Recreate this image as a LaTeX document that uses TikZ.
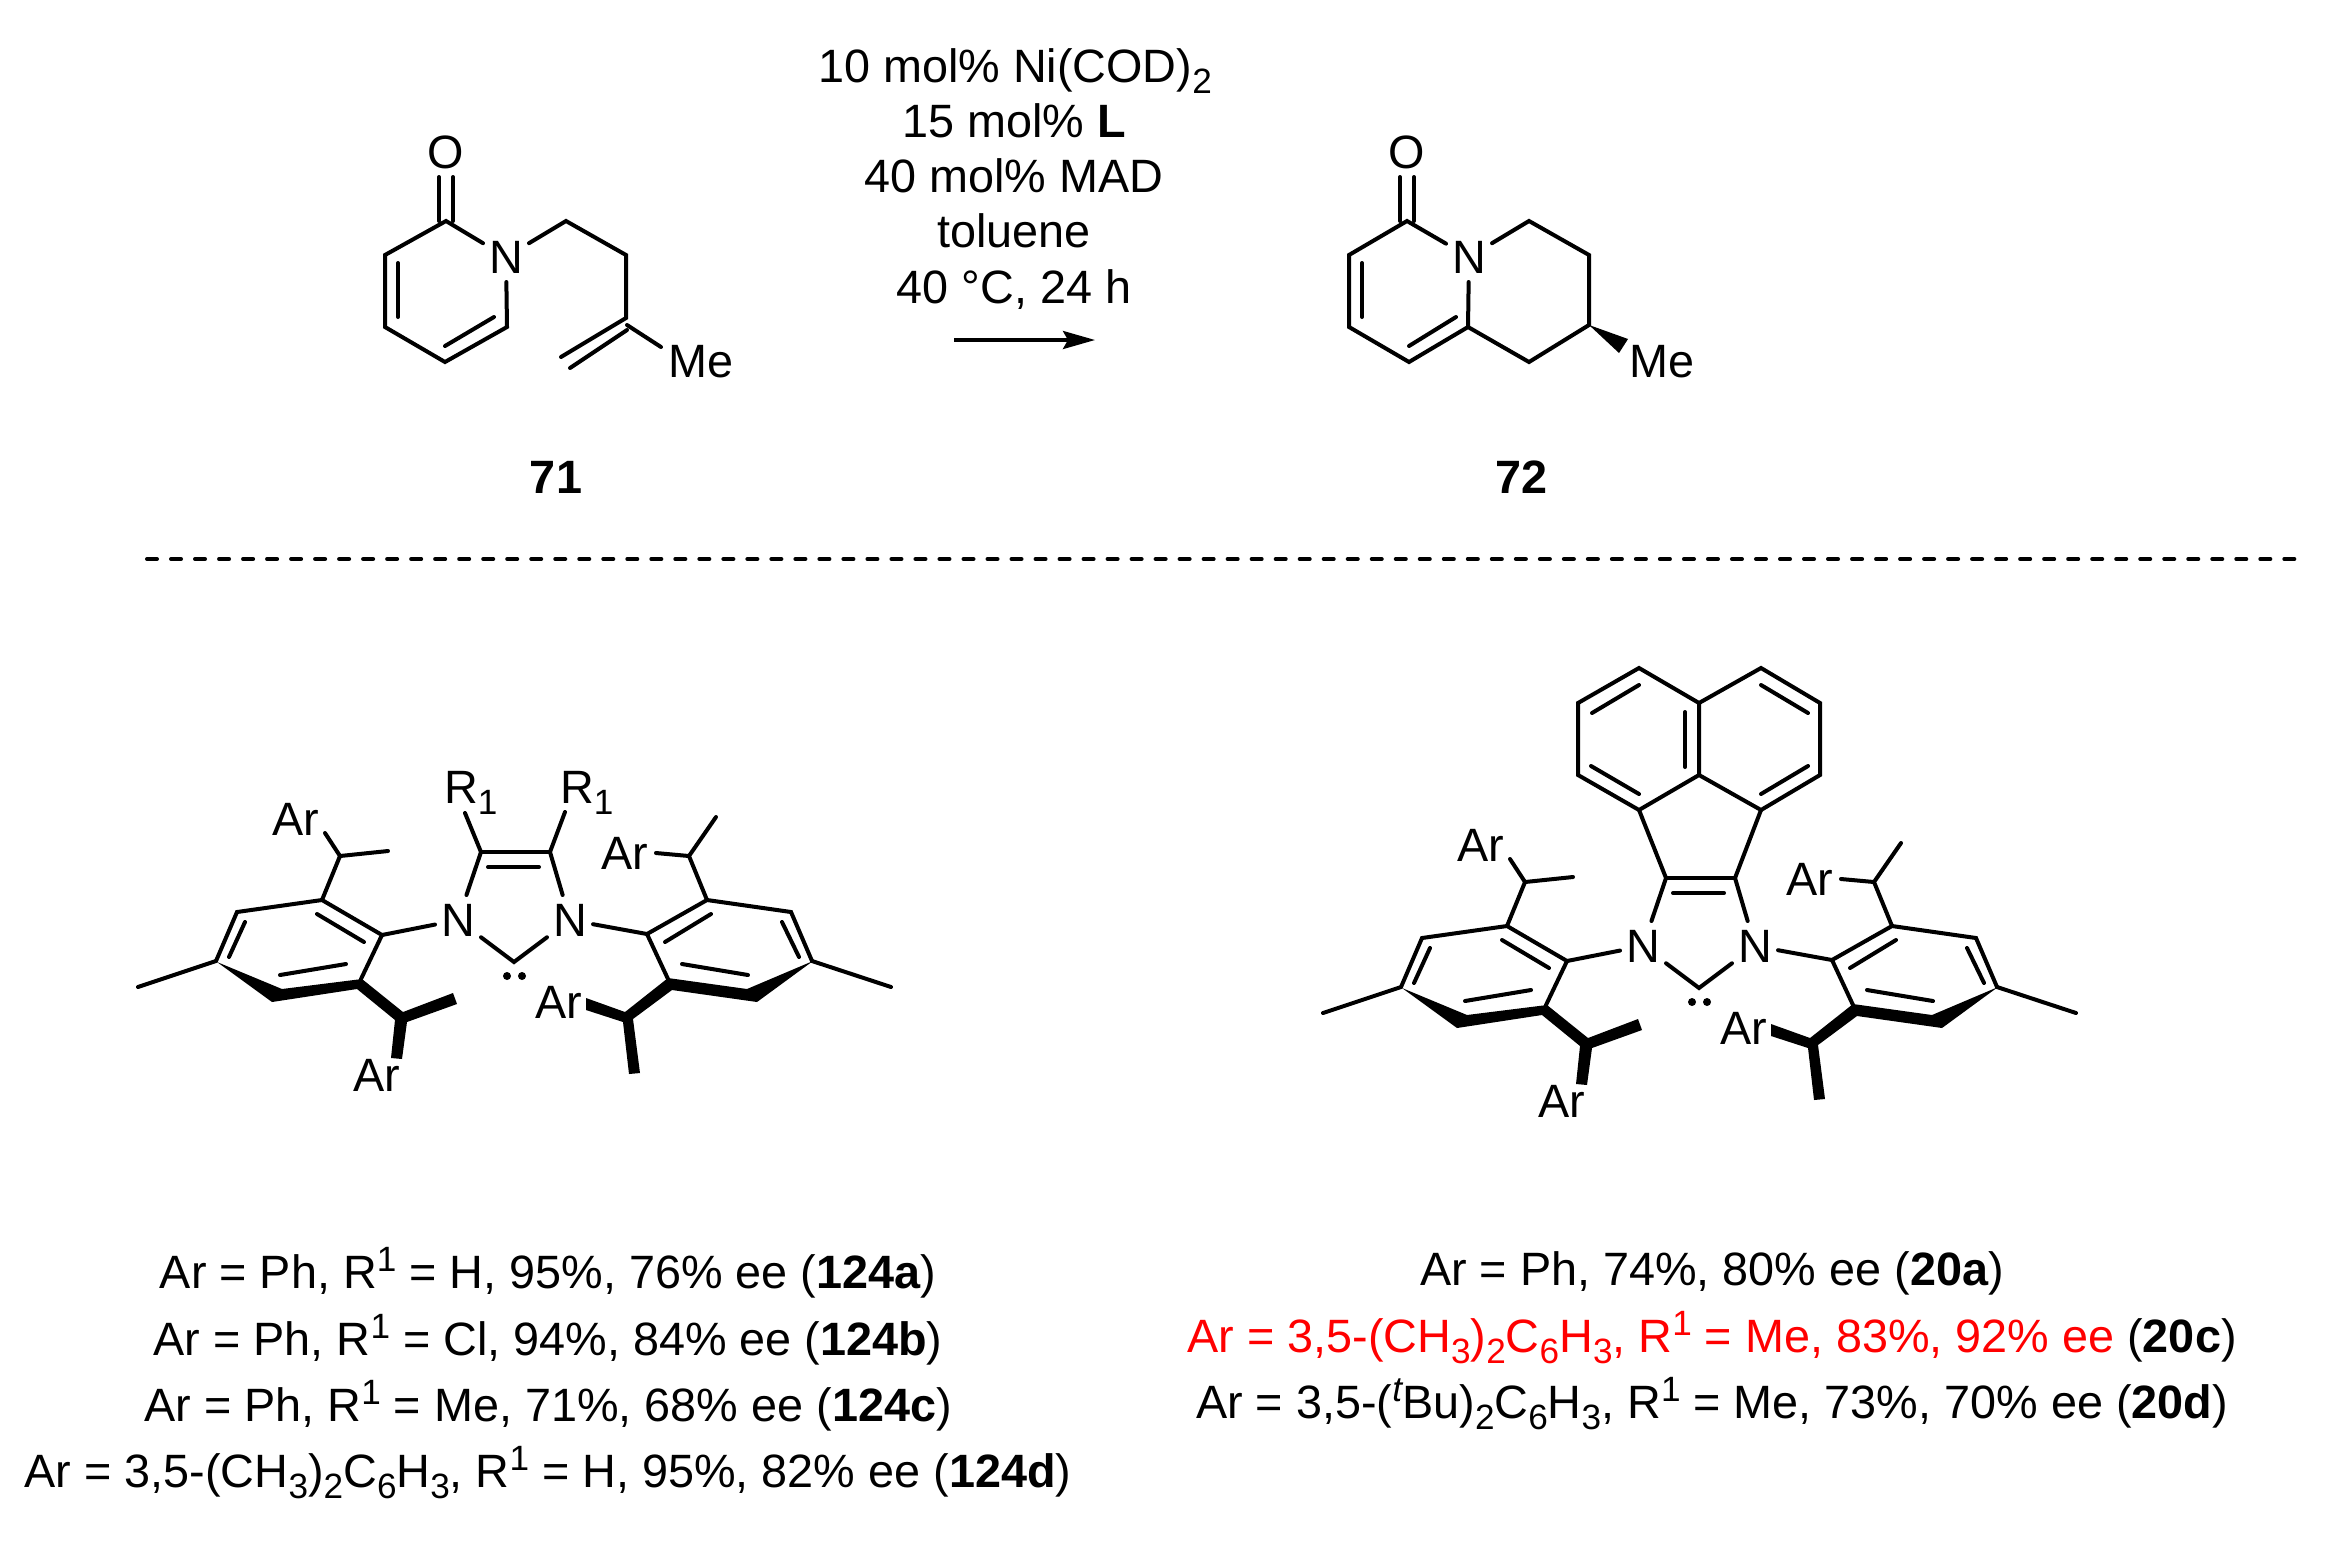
\documentclass[tikz,border=0pt]{standalone}
\usepackage{fontspec}
\setmainfont{Liberation Sans}
\usetikzlibrary{arrows.meta}
\definecolor{hitred}{RGB}{255,0,0}
\newcommand\subx[1]{\raisebox{-0.25em}{\fontsize{10pt}{10pt}\selectfont #1}}
\newcommand\supx[1]{\raisebox{0.36em}{\fontsize{10pt}{10pt}\selectfont #1}}
\tikzset{
  x=0.01cm,y=-0.01cm,
  every node/.style={font=\fontsize{13.3pt}{16pt}\selectfont,inner sep=0pt,outer sep=0pt},
  bond/.style={line width=0.04cm,line cap=round,line join=miter},
  wedgebond/.style={fill=black,draw=none},
  atomlabel/.style={minimum width=0.46cm,minimum height=0.5cm},
  txt/.style={anchor=base},
  rlabel/.style={anchor=base west},
}
\newcommand\carbene[1]{%
  % atoms
  \coordinate (#1Ca) at (481,852);
  \coordinate (#1Cb) at (550,852);
  \coordinate (#1Cc) at (514,962);
  \node[atomlabel] (#1Na) at (458,920) {N};
  \node[atomlabel] (#1Nb) at (570,920) {N};
  \draw[bond] (#1Ca) -- (#1Cb);
  \draw[bond] (488,867) -- (539,867);
  \draw[bond] (#1Ca) -- (#1Na) -- (#1Cc) -- (#1Nb) -- (#1Cb);
  \fill (507,976) circle (4);
  \fill (522,976) circle (4);
  % left aryl
  \coordinate (#1a1) at (382,935);
  \coordinate (#1a2) at (322,900);
  \coordinate (#1a3) at (237,912);
  \coordinate (#1a4) at (216,961);
  \coordinate (#1a7) at (361,979);
  \coordinate (#1am) at (138,987);
  \coordinate (#1at) at (340,856);
  \coordinate (#1atm) at (388,851);
  \coordinate (#1atr) at (325,833);
  \draw[bond] (#1Na) -- (#1a1);
  \draw[bond] (#1a7) -- (#1a1) -- (#1a2) -- (#1a3) -- (#1a4);
  \draw[bond] (364,942) -- (317,914);
  \draw[bond] (245,922) -- (229,957);
  \draw[bond] (280,975) -- (346,964);
  \draw[bond] (#1a4) -- (#1am);
  \draw[bond] (#1a2) -- (#1at) -- (#1atm);
  \draw[bond] (#1at) -- (#1atr);
  \fill[wedgebond] (217,962) -- (282,989) -- (362,979) -- (403,1012) -- (453,993)
     -- (457,1004) -- (407,1022) -- (402,1059) -- (391,1058) -- (395,1020)
     -- (357,989) -- (272,1002) -- cycle;
  \node (#1Art) at (296,819) {Ar};
  \node (#1Arb) at (377,1075) {Ar};
  % right aryl
  \coordinate (#1b1) at (647,934);
  \coordinate (#1b2) at (707,900);
  \coordinate (#1b3) at (791,912);
  \coordinate (#1b4) at (812,961);
  \coordinate (#1b7) at (668,979);
  \coordinate (#1bm) at (891,987);
  \coordinate (#1bt) at (689,856);
  \coordinate (#1btm) at (716,817);
  \coordinate (#1btr) at (656,853);
  \draw[bond] (#1Nb) -- (#1b1);
  \draw[bond] (#1b7) -- (#1b1) -- (#1b2) -- (#1b3) -- (#1b4);
  \draw[bond] (665,942) -- (711,914);
  \draw[bond] (782,922) -- (799,957);
  \draw[bond] (682,964) -- (748,975);
  \draw[bond] (#1b4) -- (#1bm);
  \draw[bond] (#1b2) -- (#1bt) -- (#1btm);
  \draw[bond] (#1bt) -- (#1btr);
  \fill[wedgebond] (813,961) -- (747,989) -- (668,978) -- (625,1012) -- (586,998)
     -- (586,1010) -- (623,1022) -- (629,1074) -- (640,1073) -- (633,1019)
     -- (672,990) -- (757,1002) -- cycle;
  \node (#1Art2) at (625,853) {Ar};
  \node (#1Arb2) at (559,1002) {Ar};
}
\begin{document}
\begin{tikzpicture}
\useasboundingbox (0,0) rectangle (2325,1542);
% ---------- 71
\node[atomlabel] (Oa) at (446,152) {O};
\node[atomlabel] (Nc) at (506,257) {N};
\coordinate (p1) at (446,221);
\coordinate (p2) at (385,255);
\coordinate (p3) at (385,327);
\coordinate (p4) at (445,362);
\coordinate (p5) at (507,327);
\coordinate (p6) at (566,221);
\coordinate (p7) at (626,255);
\coordinate (p8) at (626,318);
\coordinate (p9) at (561,357);
\coordinate (p10) at (661,347);
\node (Mea) at (701,362) {Me};
\draw[bond] ([xshift=-0.07cm]Oa.south) -- ([xshift=-0.07cm]p1);
\draw[bond] ([xshift=0.07cm]Oa.south) -- ([xshift=0.07cm]p1);
\draw[bond] (Nc) -- (p1) -- (p2) -- (p3) -- (p4) -- (p5) -- (Nc);
\draw[bond] (398,263) -- (398,317);
\draw[bond] (445,346) -- (494,317);
\draw[bond] (Nc) -- (p6) -- (p7) -- (p8) -- (p9);
\draw[bond] (627,330) -- (570,368);
\draw[bond] (627,325) -- (p10);
\node[txt] (lab71) at (556,493) {\textbf{71}};
% ---------- reagents
\node[txt] (r1) at (1015,82) {10 mol\% Ni(COD)\subx{2}};
\node[txt] (r2) at (1014,137) {15 mol\% \textbf{L}};
\node[txt] (r3) at (1014,192) {40 mol\% MAD};
\node[txt] (r4) at (1014,247) {toluene};
\node[txt] (r5) at (1014,303) {40 °C, 24 h};
\coordinate (arrA) at (954,340);
\coordinate (arrB) at (1095,340);
\draw[line width=0.035cm,-{Stealth[length=0.32cm,width=0.18cm,inset=0.05cm]}] (arrA) -- (arrB);
% ---------- 72
\node[atomlabel] (Ob) at (1407,152) {O};
\node[atomlabel] (Nd) at (1469,257) {N};
\coordinate (q1) at (1407,221);
\coordinate (q2) at (1349,255);
\coordinate (q3) at (1349,327);
\coordinate (q4) at (1409,362);
\coordinate (q5) at (1468,327);
\coordinate (q6) at (1529,221);
\coordinate (q7) at (1589,255);
\coordinate (q8) at (1589,325);
\coordinate (q9) at (1529,362);
\node (Meb) at (1662,362) {Me};
\draw[bond] ([xshift=-0.07cm]Ob.south) -- ([xshift=-0.07cm]q1);
\draw[bond] ([xshift=0.07cm]Ob.south) -- ([xshift=0.07cm]q1);
\draw[bond] (Nd) -- (q1) -- (q2) -- (q3) -- (q4) -- (q5) -- (Nd);
\draw[bond] (1362,263) -- (1362,317);
\draw[bond] (1409,346) -- (1456,317);
\draw[bond] (Nd) -- (q6) -- (q7) -- (q8) -- (q9) -- (q5);
\fill[wedgebond] (q8) -- (1628,339) -- (1619,353) -- cycle;
\node[txt] (lab72) at (1521,493) {\textbf{72}};
% ---------- dashed rule
\coordinate (ruleA) at (147,559);
\coordinate (ruleB) at (2298,559);
\draw[line width=0.04cm,line cap=round,dash pattern=on 0.1cm off 0.14cm] (ruleA) -- (ruleB);
% ---------- left carbene
\begin{scope}
\carbene{L}
\end{scope}
\coordinate (Lr1) at (465,813);
\coordinate (Lr2) at (565,812);
\draw[bond] (LCa) -- (Lr1);
\draw[bond] (LCb) -- (Lr2);
\node[rlabel] (LR1) at (444,803) {R\subx{1}};
\node[rlabel] (LR2) at (560,803) {R\subx{1}};
% ---------- right carbene
\begin{scope}[shift={(1185,26)}]
\carbene{R}
\end{scope}
\coordinate (t1) at (1639,810);
\coordinate (t2) at (1578,775);
\coordinate (t3) at (1578,703);
\coordinate (t4) at (1639,668);
\coordinate (t5) at (1699,703);
\coordinate (t6) at (1699,775);
\coordinate (t7) at (1761,668);
\coordinate (t8) at (1820,703);
\coordinate (t9) at (1820,775);
\coordinate (t10) at (1761,810);
\draw[bond] (t6) -- (t1) -- (t2) -- (t3) -- (t4) -- (t5) -- (t6) -- (t10) -- (t9) -- (t8) -- (t7) -- (t5);
\draw[bond] (RCa) -- (t1);
\draw[bond] (RCb) -- (t10);
\draw[bond] (1639,794) -- (1591,766);
\draw[bond] (1592,713) -- (1639,685);
\draw[bond] (1685,712) -- (1685,767);
\draw[bond] (1761,685) -- (1808,713);
\draw[bond] (1808,766) -- (1761,794);
% ---------- captions
\node[txt] (c1) at (548,1288) {Ar = Ph, R\supx{1} = H, 95\%, 76\% ee (\textbf{124a})};
\node[txt] (c2) at (548,1355) {Ar = Ph, R\supx{1} = Cl, 94\%, 84\% ee (\textbf{124b})};
\node[txt] (c3) at (548,1421) {Ar = Ph, R\supx{1} = Me, 71\%, 68\% ee (\textbf{124c})};
\node[txt] (c4) at (548,1487) {Ar = 3,5-(CH\subx{3})\subx{2}C\subx{6}H\subx{3}, R\supx{1} = H, 95\%, 82\% ee (\textbf{124d})};
\node[txt] (d1) at (1712,1285) {Ar = Ph, 74\%, 80\% ee (\textbf{20a})};
\node[txt] (d2) at (1712,1352) {\textcolor{hitred}{Ar = 3,5-(CH\subx{3})\subx{2}C\subx{6}H\subx{3}, R\supx{1} = Me, 83\%, 92\% ee} (\textbf{20c})};
\node[txt] (d3) at (1712,1418) {Ar = 3,5-(\raisebox{0.36em}{\fontsize{10pt}{10pt}\selectfont\itshape t}Bu)\subx{2}C\subx{6}H\subx{3}, R\supx{1} = Me, 73\%, 70\% ee (\textbf{20d})};
\end{tikzpicture}
\end{document}
